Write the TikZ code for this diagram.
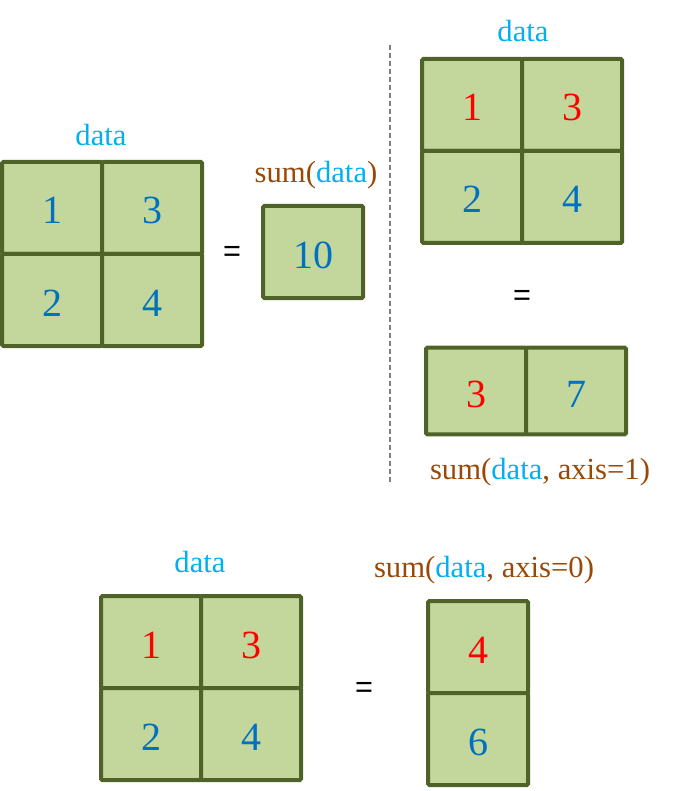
\documentclass[tikz,border=0pt]{standalone}
\usepackage{fontspec}
\setmainfont{Liberation Serif}
\newfontfamily\timesfont{Liberation Serif}
\newfontfamily\eqfont{Liberation Sans}
\usetikzlibrary{positioning}
\definecolor{cellfill}{HTML}{C3D69B}
\definecolor{cellline}{HTML}{4F6228}
\definecolor{numblue}{HTML}{0070C0}
\definecolor{numred}{HTML}{FF0000}
\definecolor{datablue}{HTML}{00B0F0}
\definecolor{sumbrown}{HTML}{984807}
\tikzset{
  cell/.style={draw=cellline, fill=cellfill, line width=3pt, rounded corners=1pt,
    minimum width=75pt, minimum height=69pt, outer sep=0pt, inner sep=0pt,
    text height=24pt, text depth=0pt,
    font=\timesfont\fontsize{30}{32}\selectfont, text=numblue},
  hot/.style={cell, text=numred},
  flat/.style={minimum height=65pt},
  lbl/.style={font=\timesfont\fontsize{23}{27}\selectfont, text=sumbrown},
  eq/.style={font=\eqfont\fontsize{23}{27}\selectfont},
}
\newcommand{\dat}{\textcolor{datablue}{data}}
\begin{document}
\begin{tikzpicture}[x=0.75pt, y=-0.75pt, node distance=0pt]
    \useasboundingbox (0,0) rectangle (683,791);

    % Sum of all elements
    \node[lbl] (dataA) at (101,135) {\dat};
    \node[cell] (a11) at (52,208) {1};
    \node[cell, right=of a11] (a12) {3};
    \node[cell, below=of a11] (a21) {2};
    \node[cell, right=of a21] (a22) {4};
    \node[eq] (eqA) at (232,254) {=};
    \node[lbl] (sumA) at (316,175) {sum(\dat)};
    \node[cell] (total) at (313,252) {10};

    % Separator
    \coordinate (sepTop) at (390,45);
    \coordinate (sepBot) at (390,485);
    \draw[gray, line width=1pt, dash pattern=on 4pt off 2pt] (sepTop) -- (sepBot);

    % Sum along axis 1
    \node[lbl] (dataB) at (523,31) {\dat};
    \node[hot] (b11) at (472,105) {1};
    \node[hot, right=of b11] (b12) {3};
    \node[cell, below=of b11] (b21) {2};
    \node[cell, right=of b21] (b22) {4};
    \node[eq] (eqB) at (522,298) {=};
    \node[hot, flat] (row1) at (476,391) {3};
    \node[cell, flat, right=of row1] (row2) {7};
    \node[lbl] (sumB) at (540,472) {sum(\dat, axis=1)};

    % Sum along axis 0
    \node[lbl] (dataC) at (200,562) {\dat};
    \node[hot] (c11) at (151,642) {1};
    \node[hot, right=of c11] (c12) {3};
    \node[cell, below=of c11] (c21) {2};
    \node[cell, right=of c21] (c22) {4};
    \node[eq] (eqC) at (364,690) {=};
    \node[lbl] (sumC) at (484,570) {sum(\dat, axis=0)};
    \node[hot] (col1) at (478,647) {4};
    \node[cell, below=of col1] (col2) {6};
\end{tikzpicture}
\end{document}
